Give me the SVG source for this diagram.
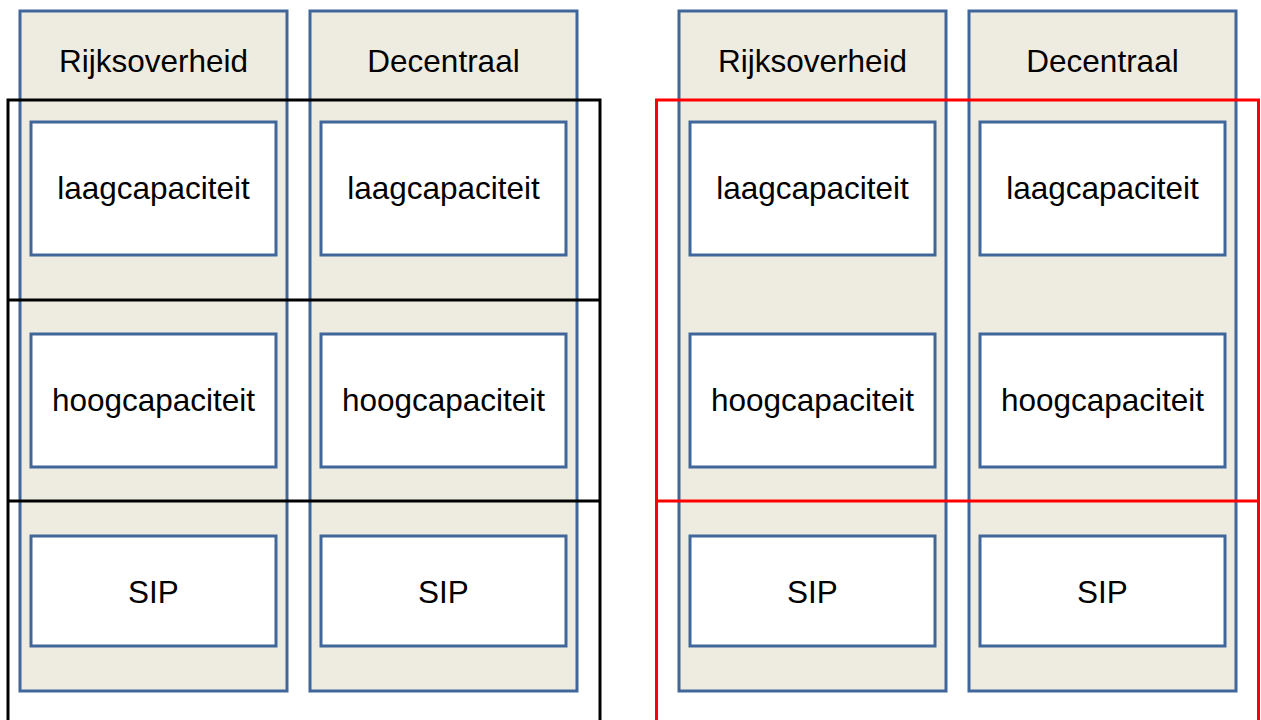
<svg xmlns="http://www.w3.org/2000/svg" width="1261" height="720" viewBox="0 0 1261 720">
<style>
.col{fill:#eeece1;stroke:#41679a;stroke-width:3}
.box{fill:#ffffff;stroke:#41679a;stroke-width:3}
.t{font-family:"Liberation Sans",Arial,sans-serif;font-size:31.5px;fill:#000;text-anchor:middle}
.frame{fill:none;stroke-width:3}
</style>
<rect width="1261" height="720" fill="#ffffff"/>
<g id="col-rijk-1">
<rect class="col" x="20" y="11" width="267" height="680"/>
<text class="t" x="153.5" y="72">Rijksoverheid</text>
</g>
<g id="col-dec-1">
<rect class="col" x="310" y="11" width="267" height="680"/>
<text class="t" x="443.5" y="72">Decentraal</text>
</g>
<g id="col-rijk-2">
<rect class="col" x="679" y="11" width="267" height="680"/>
<text class="t" x="812.5" y="72">Rijksoverheid</text>
</g>
<g id="col-dec-2">
<rect class="col" x="969" y="11" width="267" height="680"/>
<text class="t" x="1102.5" y="72">Decentraal</text>
</g>
<g id="boxes">
<g id="laag-1"><rect class="box" x="31" y="122" width="245" height="133"/><text class="t" x="153.5" y="199">laagcapaciteit</text></g>
<g id="laag-2"><rect class="box" x="321" y="122" width="245" height="133"/><text class="t" x="443.5" y="199">laagcapaciteit</text></g>
<g id="laag-3"><rect class="box" x="690" y="122" width="245" height="133"/><text class="t" x="812.5" y="199">laagcapaciteit</text></g>
<g id="laag-4"><rect class="box" x="980" y="122" width="245" height="133"/><text class="t" x="1102.5" y="199">laagcapaciteit</text></g>
<g id="hoog-1"><rect class="box" x="31" y="334" width="245" height="133"/><text class="t" x="153.5" y="411">hoogcapaciteit</text></g>
<g id="hoog-2"><rect class="box" x="321" y="334" width="245" height="133"/><text class="t" x="443.5" y="411">hoogcapaciteit</text></g>
<g id="hoog-3"><rect class="box" x="690" y="334" width="245" height="133"/><text class="t" x="812.5" y="411">hoogcapaciteit</text></g>
<g id="hoog-4"><rect class="box" x="980" y="334" width="245" height="133"/><text class="t" x="1102.5" y="411">hoogcapaciteit</text></g>
<g id="sip-1"><rect class="box" x="31" y="536" width="245" height="110"/><text class="t" x="153.5" y="603">SIP</text></g>
<g id="sip-2"><rect class="box" x="321" y="536" width="245" height="110"/><text class="t" x="443.5" y="603">SIP</text></g>
<g id="sip-3"><rect class="box" x="690" y="536" width="245" height="110"/><text class="t" x="812.5" y="603">SIP</text></g>
<g id="sip-4"><rect class="box" x="980" y="536" width="245" height="110"/><text class="t" x="1102.5" y="603">SIP</text></g>
</g>
<g id="frames">
<path class="frame" stroke="#000000" d="M8,725 V100 H600 V725 M8,300 H600 M8,501 H600"/>
<path class="frame" stroke="#ff0000" d="M656.5,725 V100 H1258.5 V725 M656.5,501 H1258.5"/>
</g>
</svg>
